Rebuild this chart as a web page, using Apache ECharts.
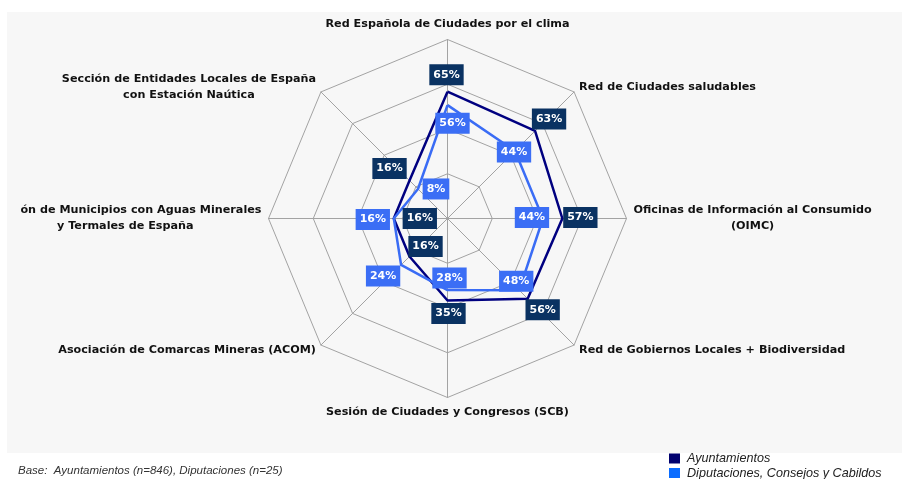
<!DOCTYPE html>
<html>
<head>
<meta charset="utf-8">
<script src="https://cdn.jsdelivr.net/npm/echarts@6/dist/echarts.min.js"></script>
<style>
html, body { margin: 0; padding: 0; background: #fff; }
#chart { width: 902px; height: 479px; }
</style>
</head>
<body>
<div id="chart"></div>
<script>
// categories in clockwise order, starting at the top
const categories = [
    'Red Española de Ciudades por el clima',
    'Red de Ciudades saludables',
    'Oficinas de Información al Consumido\n(OIMC)',
    'Red de Gobiernos Locales + Biodiversidad',
    'Sesión de Ciudades y Congresos (SCB)',
    'Asociación de Comarcas Mineras (ACOM)',
    'ón de Municipios con Aguas Minerales\ny Termales de España',
    'Sección de Entidades Locales de España\ncon Estación Naútica'
];
const seriesNames = ['Ayuntamientos', 'Diputaciones, Consejos y Cabildos'];
const ayuntamientos = [65, 63, 57, 56, 35, 16, 16, 16];
const diputaciones = [56, 44, 44, 48, 28, 24, 16, 8];
const axisMin = -20;
const axisMax = 100;

// label nudges (px), one per category
const shiftAyto = [[-1, -17], [14, -12], [18, -1], [15, 11], [1, 13], [16, -10], [26, 0], [-20, -12]];
const shiftDipu = [[5, 18], [-1, 1], [-11, -1], [-3, -9], [2, -12], [-18, 11], [-21, 1], [18, 0]];

const center = [447.5, 218.5];
const radius = 179;

// echarts radar lays indicators out counter-clockwise
const radarOrder = [0, 7, 6, 5, 4, 3, 2, 1];

const nameFont = {
    fontFamily: 'DejaVu Sans',
    fontWeight: 'bold',
    fontSize: 11.2,
    color: '#111',
    lineHeight: 16
};

function labelSeries(values, shifts, bg) {
    return {
        type: 'scatter',
        coordinateSystem: 'polar',
        symbolSize: 0,
        silent: true,
        z: 10,
        itemStyle: { opacity: 1 },
        data: values.map((v, i) => ({
            value: [v, categories[i]],
            label: { offset: shifts[i] }
        })),
        label: {
            show: true,
            position: 'inside',
            formatter: p => p.value[0] + '%',
            color: '#fff',
            fontFamily: 'DejaVu Sans',
            fontWeight: 'bold',
            fontSize: 11,
            lineHeight: 15,
            backgroundColor: bg,
            padding: [3, 4]
        }
    };
}

const chart = echarts.init(document.getElementById('chart'));
chart.setOption({
    animation: false,
    backgroundColor: '#fff',
    graphic: [
        {
            type: 'rect',
            z: -100,
            shape: { x: 7, y: 12, width: 895, height: 441 },
            style: { fill: '#f7f7f7' },
            silent: true
        },
        {
            type: 'text',
            left: 18,
            top: 465,
            style: {
                text: 'Base:  Ayuntamientos (n=846), Diputaciones (n=25)',
                font: 'italic 11.5px "Liberation Sans"',
                fill: '#333'
            }
        }
    ],
    legend: {
        data: seriesNames,
        orient: 'vertical',
        left: 669,
        top: 452,
        height: 60,
        padding: 0,
        itemWidth: 11,
        itemHeight: 10,
        itemGap: 1.5,
        icon: 'rect',
        textStyle: {
            fontFamily: 'Liberation Sans',
            fontStyle: 'italic',
            fontSize: 12.6,
            lineHeight: 12,
            color: '#222',
            padding: [0, 0, 0, 2]
        }
    },
    radar: {
        center: center,
        radius: radius,
        startAngle: 90,
        splitNumber: 4,
        shape: 'polygon',
        nameGap: 7,
        indicator: radarOrder.map(i => ({ name: categories[i], min: axisMin, max: axisMax })),
        axisName: Object.assign({}, nameFont, {
            formatter: function (name) {
                const lines = name.split('\n');
                if (lines.length === 1) return name;
                const second = name.indexOf('Termales') >= 0 ? 'r' : 'c';
                return '{c|' + lines[0] + '}\n{' + second + '|' + lines[1] + '}';
            },
            rich: {
                c: Object.assign({}, nameFont, { align: 'center' }),
                r: Object.assign({}, nameFont, { align: 'right', padding: [0, 68, 0, 0] })
            }
        }),
        splitArea: { show: false },
        splitLine: { lineStyle: { color: '#a3a3a3', width: 1 } },
        axisLine: { lineStyle: { color: '#a3a3a3', width: 1 } }
    },
    polar: {
        center: center,
        radius: radius
    },
    angleAxis: {
        type: 'category',
        data: categories,
        startAngle: 90,
        boundaryGap: false,
        show: false
    },
    radiusAxis: {
        min: axisMin,
        max: axisMax,
        show: false
    },
    series: [
        {
            type: 'radar',
            symbol: 'none',
            z: 3,
            data: [
                {
                    name: seriesNames[0],
                    value: radarOrder.map(i => ayuntamientos[i]),
                    lineStyle: { color: '#000080', width: 2.5 },
                    itemStyle: { color: '#00006e' }
                },
                {
                    name: seriesNames[1],
                    value: radarOrder.map(i => diputaciones[i]),
                    lineStyle: { color: '#3a6cf5', width: 2.5 },
                    itemStyle: { color: '#0a6cff' }
                }
            ]
        },
        labelSeries(ayuntamientos, shiftAyto, '#0a3262'),
        labelSeries(diputaciones, shiftDipu, '#3b6ef5')
    ]
});
</script>
</body>
</html>
